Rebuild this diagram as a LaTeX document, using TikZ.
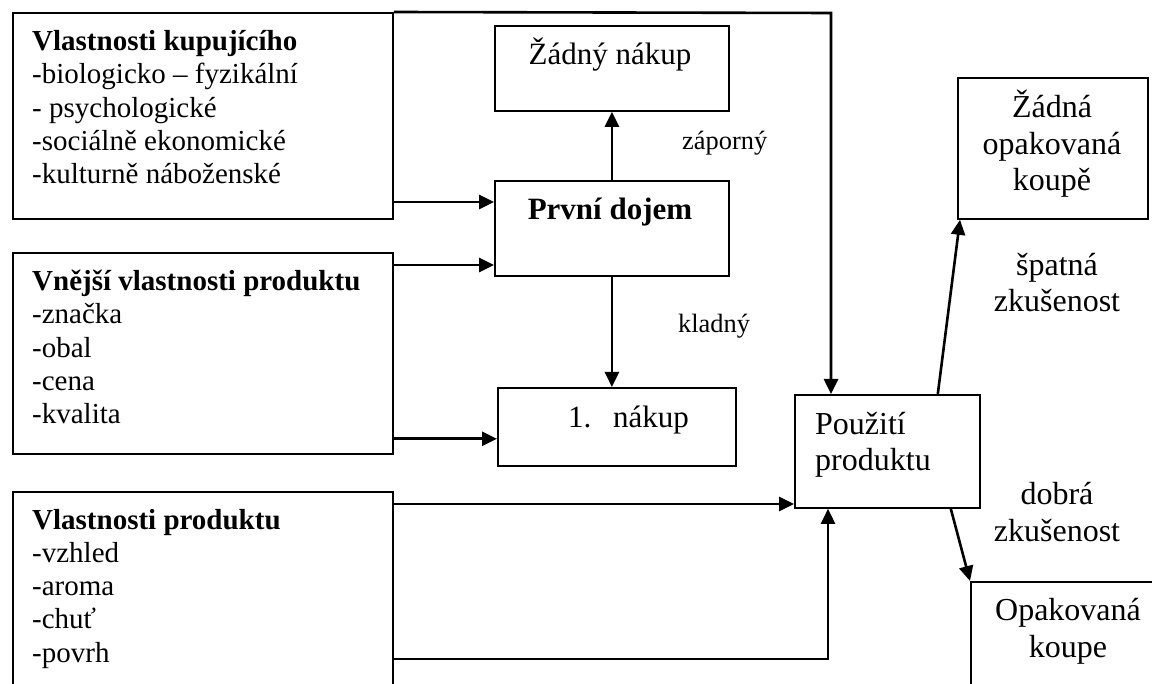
\documentclass[tikz,border=0pt]{standalone}
\usepackage{fontspec}
\setmainfont{Liberation Serif}
\usetikzlibrary{arrows.meta,calc}
\begin{document}
\begin{tikzpicture}[x=1pt,y=-1pt,
  box/.style={draw,line width=1.8pt,rectangle,inner sep=0pt,anchor=north west},
  conn/.style={line width=2.6pt,-{Triangle[length=15pt,width=14pt]}},
  lt/.style={font=\fontsize{29}{33.3}\selectfont,align=left,anchor=base west,inner sep=0pt},
  mt/.style={font=\fontsize{31}{36}\selectfont,align=center,anchor=base,inner sep=0pt},
  rt/.style={font=\fontsize{32}{36.8}\selectfont,align=center,anchor=base,inner sep=0pt},
  lab/.style={font=\fontsize{26.4}{30}\selectfont,anchor=base west,inner sep=0pt}]
\useasboundingbox (0,0) rectangle (1152,684);
\fill[white] (0,0) rectangle (1152,684);
\clip (0,0) rectangle (1152,684);

% boxes
\node[box,minimum width=380pt,minimum height=206pt] (A) at (12,12) {};
\node[box,minimum width=380pt,minimum height=201pt] (B) at (12,252) {};
\node[box,minimum width=380pt,minimum height=240pt] (C) at (12,491) {};
\node[box,minimum width=234pt,minimum height=85pt] (Z) at (494,25) {};
\node[box,minimum width=234pt,minimum height=95pt] (D) at (494,180) {};
\node[box,minimum width=238pt,minimum height=78pt] (N) at (497,387) {};
\node[box,minimum width=185pt,minimum height=113pt] (P) at (794,394) {};
\node[box,minimum width=190pt,minimum height=141pt] (ZO) at (957,77) {};
\node[box,minimum width=220pt,minimum height=150pt] (O) at (970,581) {};

% texts (base anchor = last line)
\node[lt] (At) at (32,183.7) {\textbf{Vlastnosti kupujícího}\\-biologicko – fyzikální\\- psychologické\\-sociálně ekonomické\\-kulturně náboženské};
\node[lt] (Bt) at (32,423.9) {\textbf{Vnější vlastnosti produktu}\\-značka\\-obal\\-cena\\-kvalita};
\node[lt] (Ct) at (32,662.2) {\textbf{Vlastnosti produktu}\\-vzhled\\-aroma\\-chuť\\-povrh};
\node[mt] (Zt) at (610,65) {Žádný nákup};
\node[mt] (Dt) at (610,220) {\textbf{První dojem}};
\node[mt,anchor=base west] (Nt) at (568,428) {\makebox[45pt][l]{1.}nákup};
\node[rt,align=left,anchor=base west] (Pt) at (815,471) {Použití\\produktu};
\node[rt] (ZOt) at (1052,191) {Žádná\\opakovaná\\koupě};
\node[rt] (Ot) at (1068,657.5) {Opakovaná\\koupe};
\node[rt] (bad) at (1057,312) {špatná\\zkušenost};
\node[rt] (good) at (1057,541) {dobrá\\zkušenost};
\node[lab] (neg) at (682,150) {záporný};
\node[lab] (pos) at (678,333) {kladný};

% connectors
\coordinate (topR) at (831,13);
\draw[conn] (A.north east) -- (topR) -- (topR |- P.north);
\path ([yshift=-190pt]A.north east) coordinate (a1);
\draw[conn] (a1) -- (a1 -| D.west);
\path ([yshift=-13pt]B.north east) coordinate (b1);
\draw[conn] (b1) -- (b1 -| D.west);
\path ([yshift=16pt]B.south east) coordinate (b2);
\draw[conn] (b2) -- (b2 -| N.west);
\draw[conn] (D.north) -- (Z.south);
\draw[conn] (D.south) -- (D.south |- N.north);
\path ([yshift=-13pt]C.north east) coordinate (c1);
\draw[conn] (c1) -- (c1 -| P.west);
\path ([yshift=-168pt]C.north east) coordinate (c2);
\coordinate (c3) at (828,659);
\draw[conn] (c2) -- (c3) -- (c3 |- P.south);
\draw[conn] ([xshift=-43pt]P.north east) -- ([xshift=3pt]ZO.south west);
\draw[conn] ([xshift=-30pt]P.south east) -- (O.north west);
\end{tikzpicture}
\end{document}
